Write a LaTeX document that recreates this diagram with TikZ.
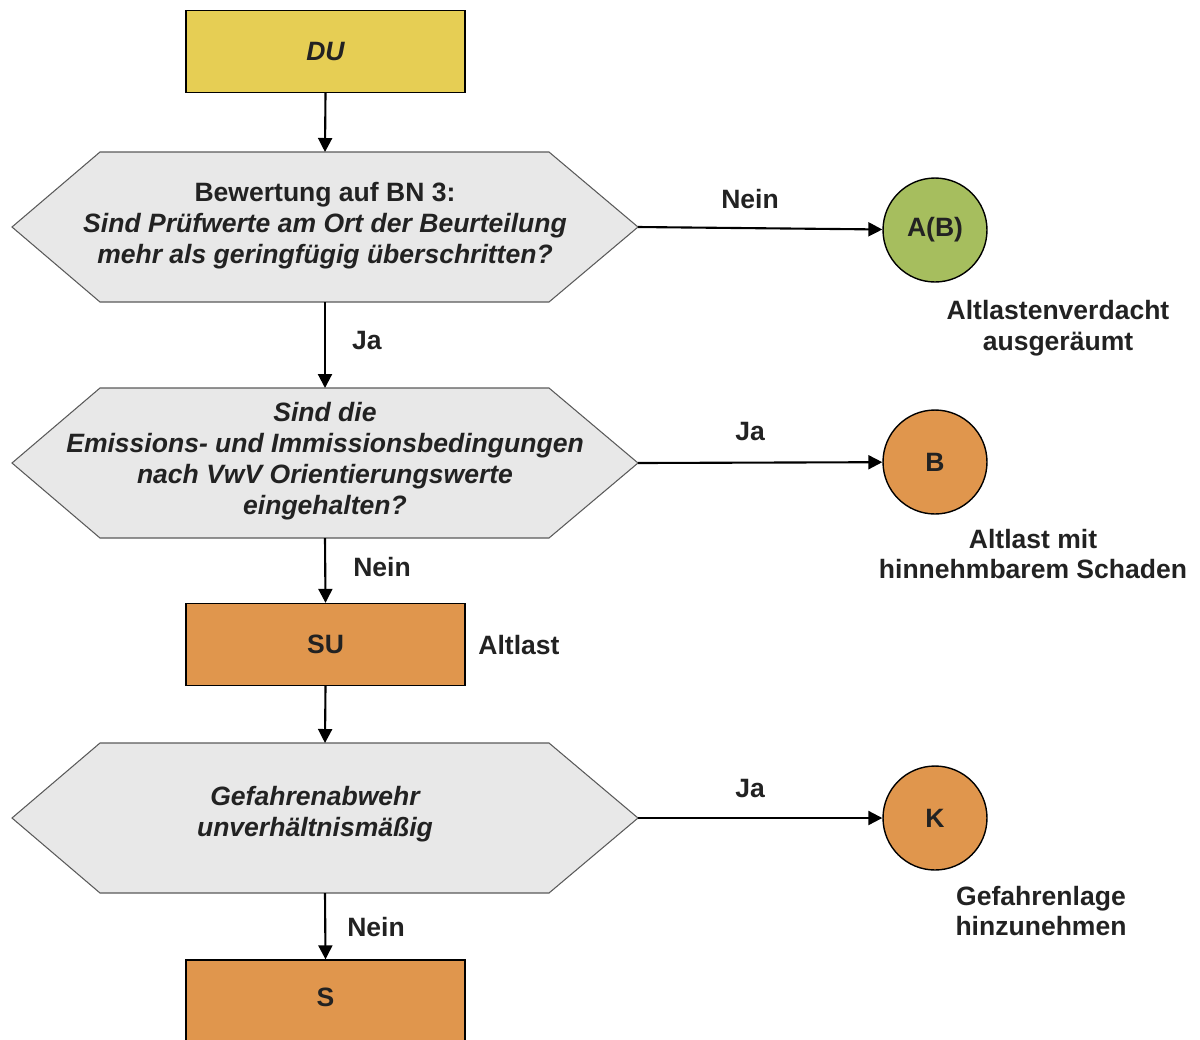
\documentclass[tikz,border=0pt]{standalone}
\usepackage{fontspec}
\setmainfont{Liberation Sans}
\usetikzlibrary{arrows.meta}
\definecolor{duyellow}{RGB}{230,206,84}
\definecolor{boxorange}{RGB}{224,150,77}
\definecolor{circgreen}{RGB}{166,190,94}
\definecolor{hexgray}{RGB}{232,232,232}
\definecolor{hexline}{RGB}{90,90,90}
\definecolor{txt}{RGB}{34,34,34}
\begin{document}
\begin{tikzpicture}[x=0.02cm,y=-0.02cm,
  every node/.style={font=\fontsize{15.1}{17.6}\selectfont\bfseries, text=txt, inner sep=0pt},
  procbox/.style={draw=black, line width=0.8pt, minimum width=5.58cm, minimum height=1.64cm},
  endcirc/.style={circle, draw=black, line width=0.8pt, minimum size=2.08cm},
  hexshape/.style={draw=hexline, fill=hexgray, line width=0.6pt},
  flow/.style={line width=1.2pt, -{Triangle[length=0.28cm,width=0.28cm]}},
  lbl/.style={align=center},
  itl/.style={font=\fontsize{15.1}{17.6}\selectfont\bfseries\itshape}
]
\useasboundingbox (0,0) rectangle (1200,1039);
\clip (0,0) rectangle (1200,1039);

% hexagons
\draw[hexshape] (12,227) -- (100,152) -- (549,152) -- (638,227) -- (549,302) -- (100,302) -- cycle;
\draw[hexshape] (12,463) -- (100,388) -- (549,388) -- (638,463) -- (549,538) -- (100,538) -- cycle;
\draw[hexshape] (12,818) -- (100,743) -- (549,743) -- (638,818) -- (549,893) -- (100,893) -- cycle;
\coordinate (h1t) at (325,152); \coordinate (h1b) at (325,302); \coordinate (h1r) at (638,227);
\coordinate (h2t) at (325,388); \coordinate (h2b) at (325,538); \coordinate (h2r) at (638,463);
\coordinate (h3t) at (325,743); \coordinate (h3b) at (325,893); \coordinate (h3r) at (638,818);

\node[lbl] (q1) at (325,226) {Bewertung auf BN 3:\\ \itshape Sind Prüfwerte am Ort der Beurteilung\\ \itshape mehr als geringfügig überschritten?};
\node[lbl, itl] (q2) at (325,461) {Sind die\\Emissions- und Immissionsbedingungen\\nach VwV Orientierungswerte\\eingehalten?};
\node[lbl, itl] (q3) at (315,814) {Gefahrenabwehr\\unverhältnismäßig};

% boxes
\node[procbox, fill=duyellow, itl] (du) at (325.5,51.5) {DU};
\node[procbox, fill=boxorange] (su) at (325.5,644.5) {SU};
\node[procbox, fill=boxorange, minimum height=1.64cm, text depth=0.16cm] (s) at (325.5,1001) {S};

% circles
\node[endcirc, fill=circgreen] (ab) at (935,230) {A(B)};
\node[endcirc, fill=boxorange] (b) at (935,462) {B};
\node[endcirc, fill=boxorange] (k) at (935,818) {K};

% side texts
\node[lbl] (t1) at (1058,328) {Altlastenverdacht\\ausgeräumt};
\node[lbl] (t2) at (1033,554) {Altlast mit\\hinnehmbarem Schaden};
\node[lbl] (t3) at (1041,911) {Gefahrenlage\\hinzunehmen};
\node (t4) at (519,645) {Altlast};

% connectors
\draw[flow] (du.south) -- (h1t);
\draw[flow] (h1r) -- (ab);
\draw[flow] (h1b) -- (h2t);
\draw[flow] (h2r) -- (b);
\draw[flow] (h2b) -- (su.north);
\draw[flow] (su.south) -- (h3t);
\draw[flow] (h3r) -- (k);
\draw[flow] (h3b) -- (s.north);

% connector labels
\node (l1) at (750,199) {Nein};
\node (l2) at (367,340) {Ja};
\node (l3) at (750,431) {Ja};
\node (l4) at (382,567) {Nein};
\node (l5) at (750,788) {Ja};
\node (l6) at (376,927) {Nein};
\end{tikzpicture}
\end{document}
